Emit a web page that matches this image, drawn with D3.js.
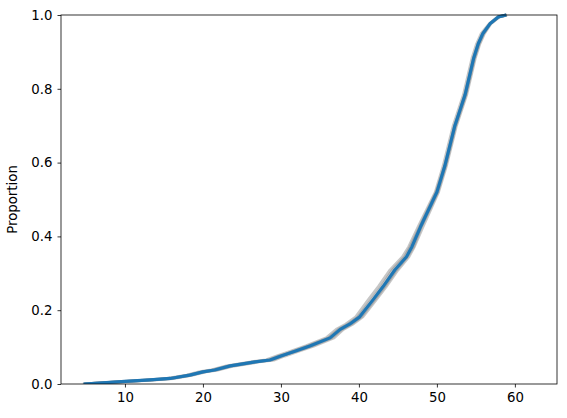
<!DOCTYPE html>
<html>
<head>
<meta charset="utf-8">
<script src="https://cdn.jsdelivr.net/npm/d3@7"></script>
<style>
  body { margin: 0; background: #fff; }
  text { font-family: "DejaVu Sans", sans-serif; }
</style>
</head>
<body>
<div id="chart"></div>
<script>
// ecdf of the sample (blue) and resampled curves (gray)
const proportions = [0, 0.007, 0.011, 0.015, 0.024, 0.033, 0.038, 0.049, 0.06, 0.065, 0.076, 0.089, 0.103, 0.125, 0.148, 0.162, 0.182, 0.228, 0.264, 0.309, 0.345, 0.372, 0.426, 0.52, 0.59, 0.70, 0.783, 0.882, 0.922, 0.95, 0.976, 0.995, 1.0];
const values = [4.7, 10, 13.2, 15.8, 18.3, 20, 21.5, 23.5, 26.7, 28.6, 30, 31.8, 33.7, 36.3, 37.6, 38.8, 40.1, 41.8, 43.1, 44.6, 46.1, 46.8, 47.9, 50, 51, 52.3, 53.6, 54.7, 55.3, 55.9, 56.8, 57.9, 58.9];
const resampleA = [4.8, 9.7, 12.9, 15.4, 17.9, 19.6, 21.1, 23.0, 26.2, 28.1, 29.5, 31.3, 33.2, 35.8, 37.1, 38.3, 39.6, 41.2, 42.5, 44.0, 45.6, 46.4, 47.6, 49.8, 50.8, 52.1, 53.4, 54.5, 55.1, 55.7, 56.7, 57.8, 58.9];
const resampleB = [4.6, 10.3, 13.5, 16.2, 18.7, 20.4, 21.9, 24.0, 27.2, 29.1, 30.5, 32.3, 34.2, 36.8, 38.0, 39.2, 40.5, 42.2, 43.5, 45.0, 46.4, 47.1, 48.2, 50.2, 51.2, 52.5, 53.8, 54.9, 55.5, 56.1, 56.9, 58.0, 59.0];
const resampleC = [4.9, 9.9, 13.4, 15.9, 18.1, 20.2, 21.3, 23.3, 26.5, 28.8, 30.2, 31.6, 33.5, 36.1, 37.4, 38.6, 39.9, 41.6, 42.9, 44.3, 45.9, 46.6, 47.8, 49.9, 51.0, 52.3, 53.6, 54.7, 55.3, 55.9, 56.8, 57.9, 58.9];
const resampleD = [4.7, 10.2, 12.9, 15.6, 18.5, 19.9, 21.7, 23.7, 26.9, 28.5, 29.8, 32.0, 33.9, 36.5, 37.8, 39.0, 40.3, 42.0, 43.3, 44.8, 46.2, 47.0, 48.0, 50.1, 51.1, 52.4, 53.7, 54.8, 55.4, 56.0, 56.8, 58.0, 58.9];
const xTicks = [10, 20, 30, 40, 50, 60];
const yTicks = [0, 0.2, 0.4, 0.6, 0.8, 1.0];

const margin = { top: 15, right: 10, bottom: 34, left: 61 },
  width = 567 - margin.left - margin.right,
  height = 418 - margin.top - margin.bottom;

const svg = d3
  .select("#chart")
  .append("svg")
  .attr("width", 567)
  .attr("height", 418);

const g = svg
  .append("g")
  .attr("transform", `translate(${margin.left}, ${margin.top})`);

const x = d3.scaleLinear().domain([1.8, 65.4]).range([0, width]);
const y = d3.scaleLinear().domain([0, 1]).range([height, 0]);

const line = d3
  .line()
  .x((d) => x(d[0]))
  .y((d) => y(d[1]));

g.append("clipPath").attr("id", "clip")
  .append("rect").attr("x", 0).attr("y", -3).attr("width", width).attr("height", height + 3);

const plot = g.append("g").attr("clip-path", "url(#clip)");

[resampleA, resampleB, resampleC, resampleD].forEach((s) => {
  plot
    .append("path")
    .datum(s.map((v, i) => [v, proportions[i]]))
    .attr("fill", "none")
    .attr("stroke", "#808080")
    .attr("stroke-opacity", 0.45)
    .attr("stroke-width", 3)
    .attr("stroke-linejoin", "round")
    .attr("d", line);
});

plot
  .append("path")
  .datum(values.map((v, i) => [v, proportions[i]]))
  .attr("fill", "none")
  .attr("stroke", "#1f77b4")
  .attr("stroke-width", 3.2)
  .attr("stroke-linejoin", "round")
  .attr("d", line);

// axes
const xAxis = g
  .append("g")
  .attr("transform", `translate(0, ${height})`)
  .call(d3.axisBottom(x).tickValues(xTicks).tickSize(3.5).tickPadding(5));
const yAxis = g
  .append("g")
  .call(d3.axisLeft(y).tickValues(yTicks).tickFormat(d3.format(".1f")).tickSize(3.5).tickPadding(5));

[xAxis, yAxis].forEach((a) => {
  a.selectAll("text").style("font-size", "13.3px").attr("fill", "#000");
  a.selectAll("line").attr("stroke", "#000").attr("stroke-width", 0.8);
  a.select(".domain").remove();
});

g.append("rect")
  .attr("width", width)
  .attr("height", height)
  .attr("fill", "none")
  .attr("stroke", "#000")
  .attr("stroke-width", 0.8);

g.append("text")
  .attr("transform", `translate(${-44}, ${height / 2}) rotate(-90)`)
  .attr("text-anchor", "middle")
  .style("font-size", "13.3px")
  .text("Proportion");
</script>
</body>
</html>
